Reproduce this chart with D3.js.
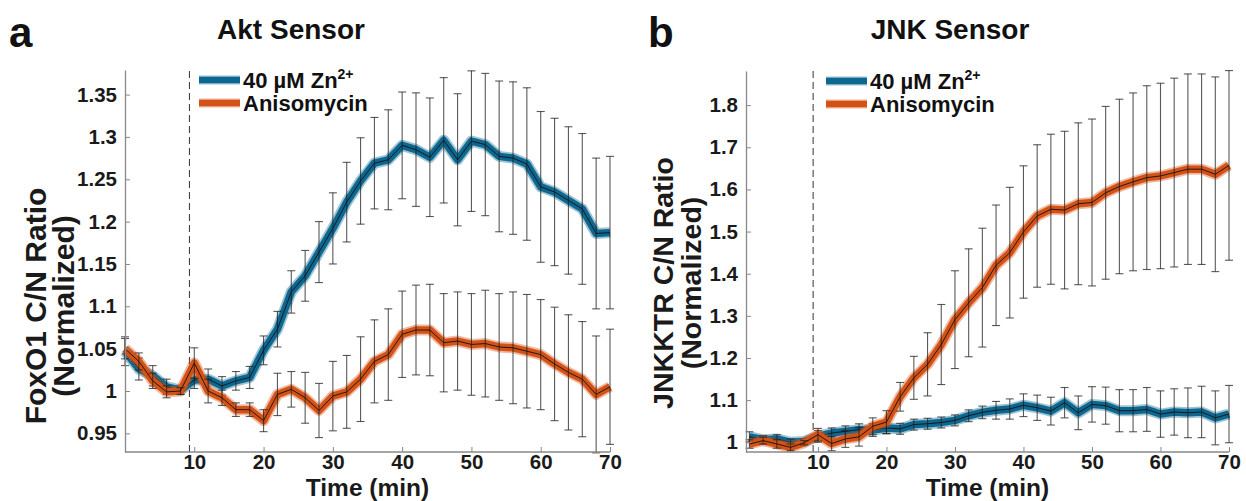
<!DOCTYPE html>
<html>
<head>
<meta charset="utf-8">
<script src="https://cdn.jsdelivr.net/npm/d3@7"></script>
<style>
  body { margin: 0; background: #fff; }
  svg { font-family: "Liberation Sans", Arial, sans-serif; font-weight: bold; }
</style>
</head>
<body>
<div id="chart"></div>
<script>
// ### DATA ###
const times = [0, 2, 4, 6, 8, 10, 12, 14, 16, 18, 20, 22, 24, 26, 28, 30, 32, 34,
  36, 38, 40, 42, 44, 46, 48, 50, 52, 54, 56, 58, 60, 62, 64, 66, 68, 70];
const seriesNames = ["40 µM Zn", "Anisomycin"];

// Akt sensor (panel a)
const aktZnMean = [1.047, 1.026, 1.018, 1.005, 1.001, 1.013, 1.014, 1.006, 1.012, 1.016, 1.048, 1.073,
  1.117, 1.136, 1.164, 1.192, 1.223, 1.248, 1.269, 1.273, 1.290, 1.285, 1.276, 1.296,
  1.273, 1.295, 1.291, 1.277, 1.275, 1.268, 1.241, 1.235, 1.225, 1.215, 1.186, 1.187];
const aktZnErr = [0.017, 0.013, 0.012, 0.009, 0.005, 0.010, 0.012, 0.011, 0.011, 0.013, 0.017, 0.021,
  0.025, 0.030, 0.036, 0.042, 0.047, 0.051, 0.054, 0.059, 0.063, 0.067, 0.070, 0.074,
  0.078, 0.083, 0.084, 0.089, 0.090, 0.090, 0.089, 0.087, 0.087, 0.089, 0.089, 0.090];
const aktAnisoMean = [1.050, 1.035, 1.012, 0.999, 1.000, 1.033, 1.000, 0.992, 0.978, 0.978, 0.965, 0.996,
  1.002, 0.992, 0.977, 0.994, 0.999, 1.014, 1.035, 1.043, 1.067, 1.072, 1.072, 1.057,
  1.059, 1.055, 1.056, 1.052, 1.051, 1.047, 1.043, 1.032, 1.022, 1.014, 0.996, 1.005];
const aktAnisoErr = [0.012, 0.010, 0.009, 0.007, 0.004, 0.018, 0.014, 0.009, 0.008, 0.008, 0.013, 0.025,
  0.021, 0.030, 0.032, 0.041, 0.043, 0.050, 0.049, 0.054, 0.051, 0.053, 0.054, 0.058,
  0.058, 0.060, 0.063, 0.063, 0.066, 0.067, 0.065, 0.067, 0.068, 0.068, 0.069, 0.068];
const aktTicks = [0.95, 1, 1.05, 1.1, 1.15, 1.2, 1.25, 1.3, 1.35];

// JNK sensor (panel b)
const jnkZnMean = [1.013, 1.006, 1.008, 1.000, 1.002, 1.014, 1.022, 1.026, 1.030, 1.029, 1.034, 1.032,
  1.042, 1.044, 1.047, 1.052, 1.063, 1.071, 1.076, 1.079, 1.088, 1.082, 1.074, 1.094,
  1.070, 1.090, 1.087, 1.075, 1.075, 1.078, 1.067, 1.072, 1.070, 1.072, 1.058, 1.067];
const jnkZnErr = [0.012, 0.010, 0.010, 0.008, 0.006, 0.014, 0.012, 0.013, 0.014, 0.015, 0.014, 0.013,
  0.013, 0.013, 0.013, 0.013, 0.014, 0.015, 0.021, 0.024, 0.027, 0.030, 0.033, 0.036,
  0.040, 0.042, 0.044, 0.050, 0.050, 0.052, 0.055, 0.055, 0.059, 0.061, 0.064, 0.068];
const jnkAnisoMean = [0.996, 1.004, 0.996, 0.988, 0.999, 1.018, 0.997, 1.008, 1.013, 1.038, 1.048, 1.108,
  1.153, 1.185, 1.232, 1.291, 1.331, 1.367, 1.420, 1.450, 1.499, 1.537, 1.553, 1.551,
  1.566, 1.569, 1.592, 1.607, 1.618, 1.628, 1.632, 1.640, 1.648, 1.648, 1.636, 1.657];
const jnkAnisoErr = [0.010, 0.008, 0.010, 0.008, 0.005, 0.015, 0.017, 0.020, 0.022, 0.020, 0.027, 0.034,
  0.051, 0.075, 0.095, 0.116, 0.128, 0.141, 0.143, 0.155, 0.157, 0.169, 0.178, 0.187,
  0.192, 0.198, 0.205, 0.207, 0.211, 0.218, 0.220, 0.224, 0.226, 0.226, 0.231, 0.225];
const jnkTicks = [1, 1.1, 1.2, 1.3, 1.4, 1.5, 1.6, 1.7, 1.8];

const timeTicks = [10, 20, 30, 40, 50, 60, 70];
const stimTime = 9.3;

const znColor = "#0d6891";
const anisoColor = "#d55216";

var width = 1246;
var height = 501;

var svg = d3.select("#chart").append("svg")
  .attr("width", width)
  .attr("height", height);

function drawPanel(opt) {
  var x = d3.scaleLinear().domain(opt.xDomain).range([opt.left, opt.right]);
  var y = d3.scaleLinear().domain(opt.yDomain).range([opt.bottom, opt.top]);
  var g = svg.append("g");

  // dashed stimulus line
  g.append("line")
    .attr("x1", x(stimTime)).attr("x2", x(stimTime))
    .attr("y1", y(opt.yDomain[0])).attr("y2", y(opt.yDomain[1]))
    .attr("stroke", "#333")
    .attr("stroke-width", 1)
    .attr("stroke-dasharray", "7,4");

  var line = d3.line()
    .x(function (d) { return x(d.t); })
    .y(function (d) { return y(d.m); });

  opt.series.forEach(function (s) {
    var pts = times.map(function (t, i) { return { t: t, m: s.mean[i], e: s.err[i] }; });

    // thick coloured band with soft edge
    g.append("path").datum(pts)
      .attr("d", line).attr("fill", "none")
      .attr("stroke", s.color).attr("stroke-width", 11)
      .attr("stroke-opacity", 0.4).attr("stroke-linejoin", "round");
    g.append("path").datum(pts)
      .attr("d", line).attr("fill", "none")
      .attr("stroke", s.color).attr("stroke-width", 7.5)
      .attr("stroke-linejoin", "round");

    // error bars
    var eb = g.append("g")
      .attr("stroke", "#222")
      .attr("stroke-opacity", 0.75)
      .attr("stroke-width", 1.1);
    eb.selectAll(".v").data(pts).enter().append("line")
      .attr("x1", function (d) { return x(d.t); })
      .attr("x2", function (d) { return x(d.t); })
      .attr("y1", function (d) { return y(d.m - d.e); })
      .attr("y2", function (d) { return y(d.m + d.e); });
    eb.selectAll(".c1").data(pts).enter().append("line")
      .attr("x1", function (d) { return x(d.t) - 4; })
      .attr("x2", function (d) { return x(d.t) + 4; })
      .attr("y1", function (d) { return y(d.m + d.e); })
      .attr("y2", function (d) { return y(d.m + d.e); });
    eb.selectAll(".c2").data(pts).enter().append("line")
      .attr("x1", function (d) { return x(d.t) - 4; })
      .attr("x2", function (d) { return x(d.t) + 4; })
      .attr("y1", function (d) { return y(d.m - d.e); })
      .attr("y2", function (d) { return y(d.m - d.e); });

    // thin black mean line
    g.append("path").datum(pts)
      .attr("d", line).attr("fill", "none")
      .attr("stroke", "#111").attr("stroke-width", 0.9);
  });

  // axes
  var xAxis = d3.axisBottom(x).tickValues(timeTicks).tickSizeInner(-5).tickSizeOuter(0).tickPadding(2);
  var yAxis = d3.axisLeft(y).tickValues(opt.ticks).tickSizeInner(-5).tickSizeOuter(0).tickPadding(8)
    .tickFormat(function (d) { return String(+d.toFixed(2)); });

  var gx = svg.append("g").attr("transform", "translate(0," + opt.bottom + ")").call(xAxis);
  var gy = svg.append("g").attr("transform", "translate(" + opt.left + ",0)").call(yAxis);
  gx.select(".domain").attr("d", "M" + opt.left + ",0H" + opt.right);
  [gx, gy].forEach(function (a) {
    a.select(".domain").attr("stroke", "#888").attr("stroke-width", 1.3);
    a.selectAll(".tick line").attr("stroke", "#888");
    a.selectAll(".tick text")
      .attr("font-family", "Liberation Sans, Arial, sans-serif")
      .attr("font-weight", "bold")
      .attr("font-size", 20.5)
      .attr("fill", "#1a1a1a");
  });

  // x label
  svg.append("text")
    .attr("x", (opt.left + opt.right) / 2)
    .attr("y", 496)
    .attr("text-anchor", "middle")
    .attr("font-size", 24.5)
    .attr("fill", "#1a1a1a")
    .text("Time (min)");

  // y label (two lines)
  var yl = svg.append("text")
    .attr("transform", "translate(" + opt.yLabelX + "," + opt.yLabelY + ") rotate(-90)")
    .attr("text-anchor", "middle")
    .attr("font-size", opt.yLabelSize)
    .attr("fill", "#1a1a1a");
  yl.append("tspan").attr("x", 0).attr("dy", 0).text(opt.yLabel);
  yl.append("tspan").attr("x", 0).attr("dy", 28).text("(Normalized)");

  // title and panel letter
  svg.append("text")
    .attr("x", opt.titleX)
    .attr("y", 39)
    .attr("text-anchor", "middle")
    .attr("font-size", 28)
    .attr("fill", "#111")
    .text(opt.title);
  svg.append("text")
    .attr("x", opt.letterX)
    .attr("y", 47)
    .attr("font-size", 42)
    .attr("fill", "#111")
    .text(opt.letter);

  // legend
  var lg = svg.append("g").attr("transform", "translate(" + opt.legendX + "," + (opt.top + 10) + ")");
  opt.series.forEach(function (s, i) {
    var row = lg.append("g").attr("transform", "translate(0," + (i * 23) + ")");
    row.append("line")
      .attr("x1", 0).attr("x2", 41).attr("y1", 0).attr("y2", 0)
      .attr("stroke", s.color).attr("stroke-width", 9).attr("stroke-opacity", 0.4);
    row.append("line")
      .attr("x1", 0).attr("x2", 41).attr("y1", 0).attr("y2", 0)
      .attr("stroke", s.color).attr("stroke-width", 6.5);
    var t = row.append("text")
      .attr("x", 44).attr("y", 8)
      .attr("font-size", 22)
      .attr("fill", "#111")
      .text(s.name);
    if (i === 0) {
      t.append("tspan").attr("dy", -9).attr("font-size", 14).text("2+");
    }
  });
}

drawPanel({
  left: 125, right: 610, top: 70, bottom: 452,
  xDomain: [0, 70], yDomain: [0.928, 1.379], ticks: aktTicks,
  title: "Akt Sensor", titleX: 291, letter: "a", letterX: 9,
  yLabel: "FoxO1 C/N Ratio", yLabelX: 46, yLabelY: 306, yLabelSize: 30,
  legendX: 199,
  series: [
    { name: seriesNames[0], mean: aktZnMean, err: aktZnErr, color: znColor },
    { name: seriesNames[1], mean: aktAnisoMean, err: aktAnisoErr, color: anisoColor }
  ]
});

drawPanel({
  left: 746, right: 1229, top: 71, bottom: 452,
  xDomain: [-0.5, 70], yDomain: [0.977, 1.881], ticks: jnkTicks,
  title: "JNK Sensor", titleX: 950, letter: "b", letterX: 648,
  yLabel: "JNKKTR C/N Ratio", yLabelX: 673, yLabelY: 283, yLabelSize: 28.5,
  legendX: 826,
  series: [
    { name: seriesNames[0], mean: jnkZnMean, err: jnkZnErr, color: znColor },
    { name: seriesNames[1], mean: jnkAnisoMean, err: jnkAnisoErr, color: anisoColor }
  ]
});
</script>
</body>
</html>
